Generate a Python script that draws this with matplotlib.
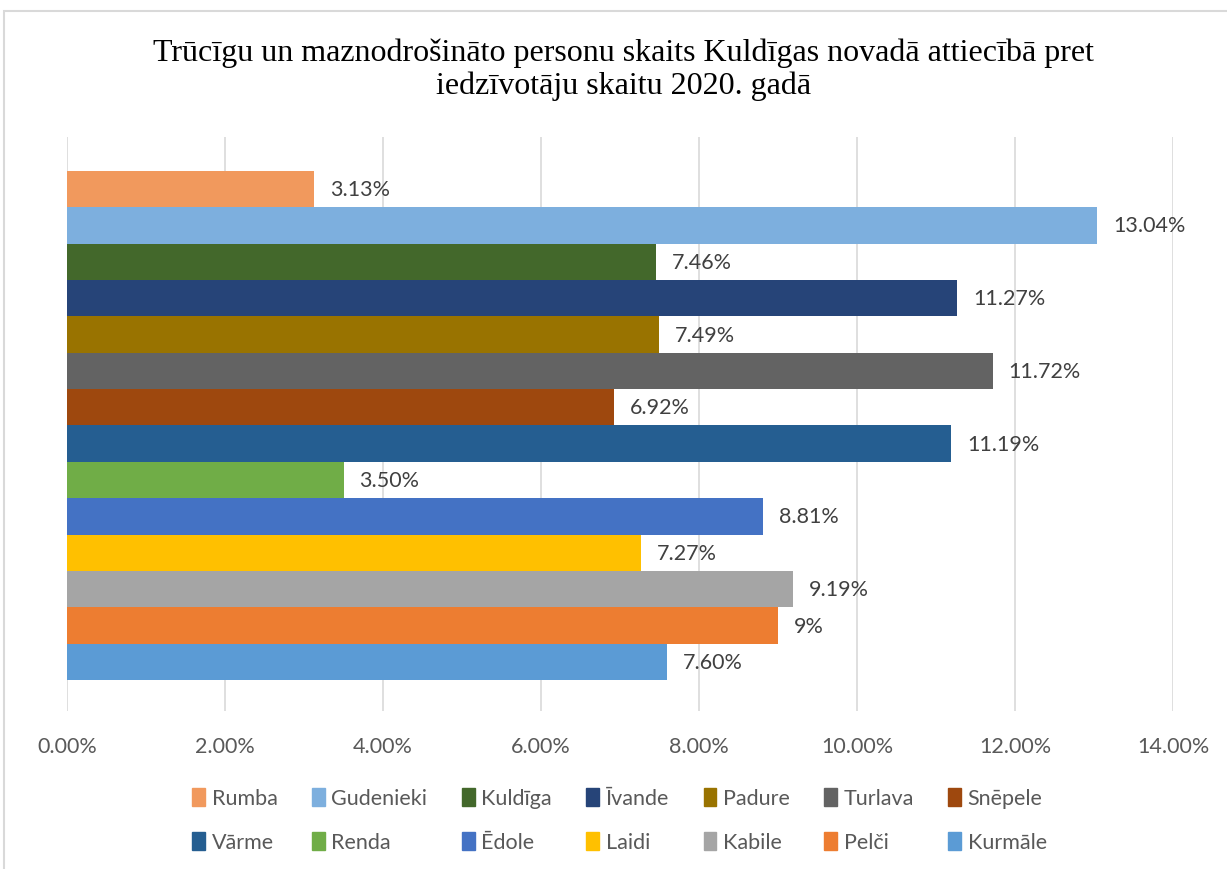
import matplotlib.pyplot as plt
from matplotlib.patches import Rectangle, Patch
from matplotlib.ticker import FuncFormatter

# dati (no augšas uz leju)
places = ["Rumba", "Gudenieki", "Kuldīga", "Īvande", "Padure", "Turlava", "Snēpele",
          "Vārme", "Renda", "Ēdole", "Laidi", "Kabile", "Pelči", "Kurmāle"]
values = [3.13, 13.04, 7.46, 11.27, 7.49, 11.72, 6.92,
          11.19, 3.50, 8.81, 7.27, 9.19, 9.00, 7.60]
labels = ["3.13%", "13.04%", "7.46%", "11.27%", "7.49%", "11.72%", "6.92%",
          "11.19%", "3.50%", "8.81%", "7.27%", "9.19%", "9%", "7.60%"]
colors = ["#F1995D", "#7DAFDE", "#43682B", "#264478", "#997300", "#636363", "#9E480E",
          "#255E91", "#70AD47", "#4472C4", "#FFC000", "#A5A5A5", "#ED7D31", "#5B9BD5"]

title = "Trūcīgu un maznodrošināto personu skaits Kuldīgas novadā attiecībā pret\niedzīvotāju skaitu 2020. gadā"

plt.rcParams['font.family'] = ['Lato', 'DejaVu Sans']

fig = plt.figure(figsize=(12.27, 8.70), dpi=100)
fig.patches.append(Rectangle((4 / 1227, -0.1), 1.2, 1.1 - 12 / 870, transform=fig.transFigure,
                             fill=False, edgecolor="#D9D9D9", linewidth=1.5))

ax = fig.add_axes([67 / 1227, 1 - 712 / 870, (1173 - 67) / 1227, (712 - 138) / 870])

n = len(places)
for i, (name, v, lab, c) in enumerate(zip(places, values, labels, colors)):
    y = n - 1 - i
    ax.barh(y, v, height=1.0, color=c, label=name)
    ax.text(v + 0.2, y, lab, va="center", ha="left", fontsize=15.5, color="#404040")

ax.set_xlim(0, 14)
ax.set_ylim(-0.5 - 0.85, n - 0.5 + 0.93)
ax.set_xticks(range(0, 15, 2))
ax.xaxis.set_major_formatter(FuncFormatter(lambda x, p: f"{x:.2f}%"))
ax.tick_params(axis="x", length=0, pad=18, labelsize=15.5, labelcolor="#595959")
ax.set_yticks([])
ax.grid(axis="x", color="#D9D9D9", linewidth=1.2)
ax.set_axisbelow(True)
for s in ax.spines.values():
    s.set_visible(False)

fig.text(0.508, 1 - 70 / 870, title, ha="center", va="center", fontsize=23,
         family="Liberation Serif", linespacing=1.15)

# leģenda pa rindām: kolonnā i ir places[i] un places[i + 7]
handles = [Patch(color=c, label=p) for p, c in zip(places, colors)]
order = [k for i in range(7) for k in (i, i + 7)]
fig.legend(handles=[handles[k] for k in order], ncol=7, loc="center",
           bbox_to_anchor=(0.505, 1 - 821 / 870),
           frameon=False, fontsize=15.5, labelcolor="#595959", handlelength=0.6,
           handleheight=0.9, handletextpad=0.3, columnspacing=1.6, labelspacing=1.1)

fig.savefig("out.png", dpi=100)
